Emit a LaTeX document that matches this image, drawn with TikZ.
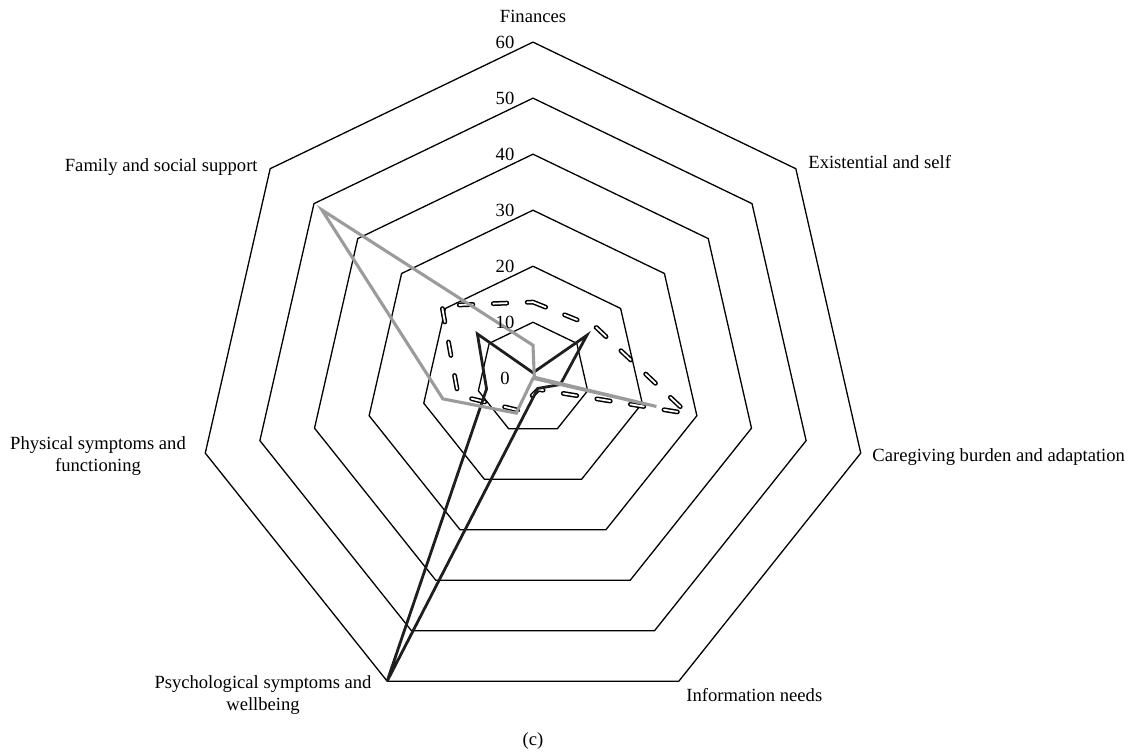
\documentclass[tikz,border=0pt]{standalone}
\usepackage{fontspec}
\setmainfont{Liberation Serif}
\begin{document}
\begin{tikzpicture}[x=0.5pt,y=-0.5pt,
  lbl/.style={font=\fontsize{9.3}{11.2}\selectfont, inner sep=0pt, align=center},
  ring/.style={draw=black, line width=0.65pt, line join=miter},
  seriesdash/.style={line width=2.4pt, dash pattern=on 6.8pt off 10.2pt, line cap=round, line join=round},
  seriesblack/.style={draw={rgb,255:red,30;green,30;blue,30}, line width=1.4pt, line join=miter},
  seriesgray/.style={draw={rgb,255:red,155;green,155;blue,155}, line width=1.55pt, line join=miter}
]
\useasboundingbox (0,0) rectangle (1137,754);
\coordinate (C) at (533,378.3);

% value axes: pixels per unit
\def\u{5.603}

\begin{scope}[shift={(C)}, x=0.5pt, y=0.5pt]
  % grid rings 10 ... 60
  \foreach \v in {10,20,...,60} {
    \draw[ring] (90:{\v*\u}) \foreach \k in {1,...,6} { -- ({90-\k*360/7}:{\v*\u}) } -- cycle;
  }
  % data points of the three series (axes clockwise from Finances)
  \foreach \val [count=\i from 0] in {13.6,14.5,28.3,2.2,6.3,13.7,20.8}
    \coordinate (d\i) at ({90-\i*360/7}:{\val*\u});
  \foreach \val [count=\i from 0] in {1,12.3,5,2,60,8.5,12.7}
    \coordinate (b\i) at ({90-\i*360/7}:{\val*\u});
  \foreach \val [count=\i from 0] in {5.9,0.3,22.6,0,6.9,16.5,48.2}
    \coordinate (g\i) at ({90-\i*360/7}:{\val*\u});
\end{scope}

% hollow dashed series: black dashes with a white core
\draw[seriesdash, draw=black] (d0) -- (d1) -- (d2) -- (d3) -- (d4) -- (d5) -- (d6) -- cycle;
\draw[seriesdash, draw=white, line width=0.9pt] (d0) -- (d1) -- (d2) -- (d3) -- (d4) -- (d5) -- (d6) -- cycle;
% solid dark series
\draw[seriesblack] (b0) -- (b1) -- (b2) -- (b3) -- (b4) -- (b5) -- (b6) -- cycle;
% solid grey series
\draw[seriesgray] (g0) -- (g1) -- (g2) -- (g3) -- (g4) -- (g5) -- (g6) -- cycle;

% scale labels
\foreach \v in {0,10,...,60}
  \node[lbl] (t\v) at (505,{378.3-\v*5.603}) {\v};

% axis labels
\node[lbl] (fin) at (533,16) {Finances};
\node[lbl, anchor=west] (exi) at (808,162) {Existential and self};
\node[lbl, anchor=west] (car) at (872,457) {Caregiving burden and adaptation};
\node[lbl, anchor=west] (inf) at (686,695) {Information needs};
\node[lbl] (psy) at (263,695) {Psychological symptoms and\\wellbeing};
\node[lbl] (phy) at (98,456) {Physical symptoms and\\functioning};
\node[lbl, anchor=east] (fam) at (258,167) {Family and social support};
\node[lbl] (cap) at (533,741) {(c)};
\end{tikzpicture}
\end{document}
